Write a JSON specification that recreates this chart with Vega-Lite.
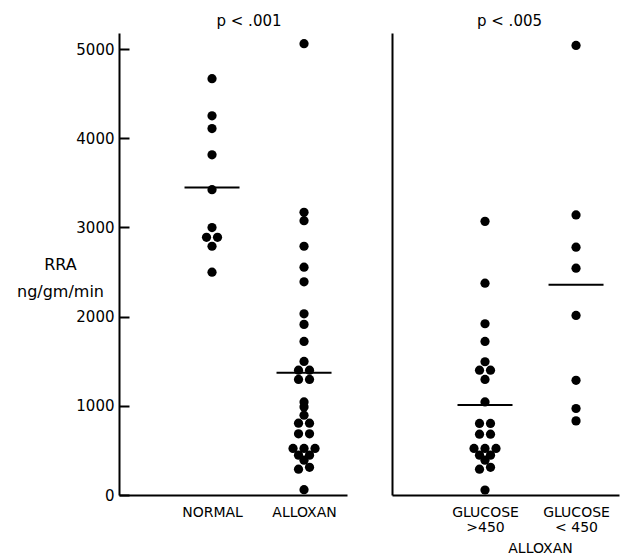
{
  "$schema": "https://vega.github.io/schema/vega-lite/v6.json",
  "background": "white",
  "padding": {"left": 16, "top": 14, "right": 2, "bottom": 0},
  "config": {
    "view": {"stroke": null},
    "font": "DejaVu Sans",
    "axis": {"domainColor": "black", "domainWidth": 2, "labelColor": "black", "titleColor": "black", "grid": false, "labelFont": "DejaVu Sans", "titleFont": "DejaVu Sans", "titleFontWeight": "normal"},
    "title": {"font": "DejaVu Sans", "fontSize": 15, "fontWeight": "normal", "color": "black", "offset": 0}
  },
  "datasets": {
    "left": [
      {"group": "NORMAL", "value": 4668, "slot": "0"},
      {"group": "NORMAL", "value": 4251, "slot": "0"},
      {"group": "NORMAL", "value": 4109, "slot": "0"},
      {"group": "NORMAL", "value": 3814, "slot": "0"},
      {"group": "NORMAL", "value": 3423, "slot": "0"},
      {"group": "NORMAL", "value": 2998, "slot": "0"},
      {"group": "NORMAL", "value": 2889, "slot": "-1"},
      {"group": "NORMAL", "value": 2889, "slot": "1"},
      {"group": "NORMAL", "value": 2789, "slot": "0"},
      {"group": "NORMAL", "value": 2498, "slot": "0"},
      {"group": "ALLOXAN", "value": 5060, "slot": "0"},
      {"group": "ALLOXAN", "value": 3169, "slot": "0"},
      {"group": "ALLOXAN", "value": 3076, "slot": "0"},
      {"group": "ALLOXAN", "value": 2789, "slot": "0"},
      {"group": "ALLOXAN", "value": 2554, "slot": "0"},
      {"group": "ALLOXAN", "value": 2390, "slot": "0"},
      {"group": "ALLOXAN", "value": 2032, "slot": "0"},
      {"group": "ALLOXAN", "value": 1913, "slot": "0"},
      {"group": "ALLOXAN", "value": 1722, "slot": "0"},
      {"group": "ALLOXAN", "value": 1498, "slot": "0"},
      {"group": "ALLOXAN", "value": 1400, "slot": "-1"},
      {"group": "ALLOXAN", "value": 1400, "slot": "1"},
      {"group": "ALLOXAN", "value": 1296, "slot": "-1"},
      {"group": "ALLOXAN", "value": 1296, "slot": "1"},
      {"group": "ALLOXAN", "value": 1044, "slot": "0"},
      {"group": "ALLOXAN", "value": 988, "slot": "0"},
      {"group": "ALLOXAN", "value": 895, "slot": "0"},
      {"group": "ALLOXAN", "value": 805, "slot": "-1"},
      {"group": "ALLOXAN", "value": 805, "slot": "1"},
      {"group": "ALLOXAN", "value": 686, "slot": "-1"},
      {"group": "ALLOXAN", "value": 686, "slot": "1"},
      {"group": "ALLOXAN", "value": 522, "slot": "-2"},
      {"group": "ALLOXAN", "value": 522, "slot": "0"},
      {"group": "ALLOXAN", "value": 522, "slot": "2"},
      {"group": "ALLOXAN", "value": 447, "slot": "-1"},
      {"group": "ALLOXAN", "value": 447, "slot": "1"},
      {"group": "ALLOXAN", "value": 391, "slot": "0"},
      {"group": "ALLOXAN", "value": 290, "slot": "-1"},
      {"group": "ALLOXAN", "value": 310, "slot": "1"},
      {"group": "ALLOXAN", "value": 60, "slot": "0"}
    ],
    "leftMeans": [
      {"group": "NORMAL", "value": 3449},
      {"group": "ALLOXAN", "value": 1372}
    ],
    "right": [
      {"group": "GLUCOSE|>450", "value": 3068, "slot": "0"},
      {"group": "GLUCOSE|>450", "value": 2375, "slot": "0"},
      {"group": "GLUCOSE|>450", "value": 1920, "slot": "0"},
      {"group": "GLUCOSE|>450", "value": 1722, "slot": "0"},
      {"group": "GLUCOSE|>450", "value": 1494, "slot": "0"},
      {"group": "GLUCOSE|>450", "value": 1400, "slot": "-1"},
      {"group": "GLUCOSE|>450", "value": 1400, "slot": "1"},
      {"group": "GLUCOSE|>450", "value": 1296, "slot": "0"},
      {"group": "GLUCOSE|>450", "value": 1044, "slot": "0"},
      {"group": "GLUCOSE|>450", "value": 802, "slot": "-1"},
      {"group": "GLUCOSE|>450", "value": 802, "slot": "1"},
      {"group": "GLUCOSE|>450", "value": 682, "slot": "-1"},
      {"group": "GLUCOSE|>450", "value": 682, "slot": "1"},
      {"group": "GLUCOSE|>450", "value": 522, "slot": "-2"},
      {"group": "GLUCOSE|>450", "value": 522, "slot": "0"},
      {"group": "GLUCOSE|>450", "value": 522, "slot": "2"},
      {"group": "GLUCOSE|>450", "value": 447, "slot": "-1"},
      {"group": "GLUCOSE|>450", "value": 447, "slot": "1"},
      {"group": "GLUCOSE|>450", "value": 391, "slot": "0"},
      {"group": "GLUCOSE|>450", "value": 290, "slot": "-1"},
      {"group": "GLUCOSE|>450", "value": 310, "slot": "1"},
      {"group": "GLUCOSE|>450", "value": 56, "slot": "0"},
      {"group": "GLUCOSE|< 450", "value": 5041, "slot": "0"},
      {"group": "GLUCOSE|< 450", "value": 3140, "slot": "0"},
      {"group": "GLUCOSE|< 450", "value": 2778, "slot": "0"},
      {"group": "GLUCOSE|< 450", "value": 2543, "slot": "0"},
      {"group": "GLUCOSE|< 450", "value": 2013, "slot": "0"},
      {"group": "GLUCOSE|< 450", "value": 1286, "slot": "0"},
      {"group": "GLUCOSE|< 450", "value": 970, "slot": "0"},
      {"group": "GLUCOSE|< 450", "value": 831, "slot": "0"}
    ],
    "rightMeans": [
      {"group": "GLUCOSE|>450", "value": 1010},
      {"group": "GLUCOSE|< 450", "value": 2357}
    ]
  },
  "spacing": 45,
  "bounds": "flush",
  "hconcat": [
    {
      "width": 228,
      "height": 462,
      "title": {"text": "p < .001", "dx": 16},
      "resolve": {"axis": {"y": "independent"}},
      "layer": [
        {
          "data": {"name": "left"},
          "mark": {"type": "circle", "size": 85, "opacity": 1, "color": "black"},
          "encoding": {
            "x": {
              "field": "group", "type": "nominal",
              "scale": {"type": "point", "domain": ["NORMAL", "ALLOXAN"], "padding": 0.739, "align": 0.684},
              "axis": {"title": null, "ticks": false, "labelFontSize": 14, "labelPadding": 10, "labelAngle": 0, "labelExpr": "split(datum.value, '|')"}
            },
            "xOffset": {"field": "slot", "type": "nominal", "scale": {"type": "point", "domain": ["-2", "-1", "0", "1", "2"], "range": [-11, 11], "padding": 0}},
            "y": {
              "field": "value", "type": "quantitative",
              "scale": {"domain": [0, 5180], "nice": false, "zero": true},
              "axis": {"orient": "left", "offset": -10, "domain": false, "ticks": true, "tickColor": "black", "tickOpacity": 1, "values": [0, 1000, 2000, 3000, 4000, 5000], "format": "d", "tickSize": 10, "tickWidth": 2, "labelPadding": 5, "labelFontSize": 15, "title": ["RRA", "ng/gm/min"], "titleAngle": 0, "titleFontSize": 16, "titleAlign": "center", "titleBaseline": "top", "titleX": -69, "titleY": 223, "titleLineHeight": 27}
            }
          }
        },
        {
          "data": {"name": "leftMeans"},
          "mark": {"type": "tick", "size": 55, "thickness": 2, "color": "black", "opacity": 1},
          "encoding": {
            "x": {"field": "group", "type": "nominal"},
            "y": {"field": "value", "type": "quantitative", "axis": {"orient": "left", "offset": 0, "labels": false, "ticks": false, "title": null, "domain": true}}
          }
        }
      ]
    },
    {
      "width": 227,
      "height": 462,
      "title": {"text": "p < .005", "dx": 4},
      "layer": [
        {
          "data": {"name": "right"},
          "mark": {"type": "circle", "size": 85, "opacity": 1, "color": "black"},
          "encoding": {
            "x": {
              "field": "group", "type": "nominal",
              "scale": {"type": "point", "domain": ["GLUCOSE|>450", "GLUCOSE|< 450"], "padding": 0.747, "align": 0.684},
              "axis": {"title": "ALLOXAN", "titleFontSize": 14, "titleX": 148, "titlePadding": 7, "ticks": false, "labelFontSize": 14, "labelPadding": 10, "labelAngle": 0, "labelLineHeight": 15, "labelExpr": "split(datum.value, '|')"}
            },
            "xOffset": {"field": "slot", "type": "nominal", "scale": {"type": "point", "domain": ["-2", "-1", "0", "1", "2"], "range": [-11, 11], "padding": 0}},
            "y": {
              "field": "value", "type": "quantitative",
              "scale": {"domain": [0, 5180], "nice": false, "zero": true},
              "axis": {"labels": false, "ticks": false, "title": null}
            }
          }
        },
        {
          "data": {"name": "rightMeans"},
          "mark": {"type": "tick", "size": 55, "thickness": 2, "color": "black", "opacity": 1},
          "encoding": {
            "x": {"field": "group", "type": "nominal"},
            "y": {"field": "value", "type": "quantitative"}
          }
        }
      ]
    }
  ]
}
